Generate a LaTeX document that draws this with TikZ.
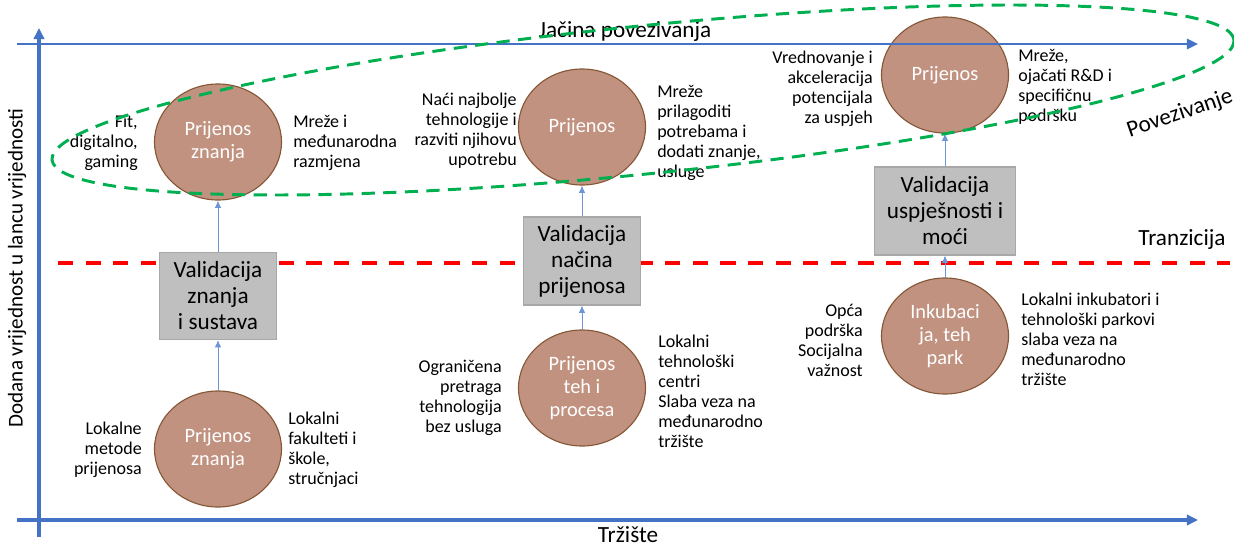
\documentclass[tikz,border=0pt]{standalone}
\usepackage{fontspec}
\setmainfont{Carlito}
\usetikzlibrary{arrows.meta}
\usetikzlibrary{shapes.geometric}

\definecolor{osplava}{RGB}{68,114,196}
\definecolor{vezaplava}{RGB}{110,150,215}
\definecolor{zelena}{RGB}{0,176,80}
\definecolor{smeda}{RGB}{193,146,128}
\definecolor{smedarub}{RGB}{133,87,54}
\definecolor{siva}{RGB}{191,191,191}
\definecolor{sivarub}{RGB}{168,168,168}

\begin{document}
\begin{tikzpicture}[x=0.25mm,y=-0.25mm,
  prijenos/.style={ellipse,draw=smedarub,fill=smeda,line width=0.8pt,
    minimum width=31.75mm,minimum height=29mm,inner sep=0pt,align=center,
    text=white,font=\fontsize{14.5}{16.3}\selectfont},
  valid/.style={rectangle,draw=sivarub,fill=siva,line width=0.8pt,
    inner sep=0pt,align=center,font=\fontsize{16.5}{18.5}\selectfont},
  opis/.style={inner sep=0pt,font=\fontsize{12.8}{14.2}\selectfont},
  naslov/.style={inner sep=0pt,font=\fontsize{16.5}{19}\selectfont},
  veza/.style={vezaplava,line width=0.6pt,-{Latex[length=1.8mm,width=1.6mm]}},
  os/.style={osplava,-{Triangle[length=2.8mm,width=2.6mm]}}]
\useasboundingbox (0,0) rectangle (1234,547);

\coordinate (tl) at (58,263);
\coordinate (td) at (1230,263);
\draw[red,line width=2.2pt,dash pattern=on 3.8mm off 3.1mm] (tl) -- (td);

\node (c1) [prijenos] at (218,142) {Prijenos\\znanja};
\node (c2) [prijenos] at (582,127) {Prijenos};
\node (c3) [prijenos] at (945,75) {Prijenos};
\node (c4) [prijenos] at (218,449) {Prijenos\\znanja};
\node (c5) [prijenos] at (582,388) {Prijenos\\teh i\\procesa};
\node (c6) [prijenos] at (945,336) {Inkubaci\\ja, teh\\park};

\node (b1) [valid,minimum width=29.25mm,minimum height=21.75mm] at (218,296) {Validacija\\znanja\\i sustava};
\node (b2) [valid,minimum width=29.25mm,minimum height=22mm] at (582,261) {Validacija\\načina\\prijenosa};
\node (b3) [valid,minimum width=35.25mm,minimum height=22mm] at (945,211) {Validacija\\uspješnosti i\\moći};

\node (c1l) [opis,anchor=east,align=right] at (138,143) {Fit,\\digitalno,\\gaming};
\node (c1d) [opis,anchor=west,align=left] at (293,143) {Mreže i\\međunarodna\\razmjena};
\node (c2l) [opis,anchor=east,align=right] at (517,131) {Naći najbolje\\tehnologije i\\razviti njihovu\\upotrebu};
\node (c2d) [opis,anchor=west,align=left] at (657,133) {Mreže\\prilagoditi\\potrebama i\\dodati znanje,\\usluge};
\node (c3l) [opis,anchor=east,align=right] at (873,89) {Vrednovanje i\\akceleracija\\potencijala\\za uspjeh};
\node (c3d) [opis,anchor=west,align=left] at (1018,87) {Mreže,\\ojačati R\&D i\\specifičnu\\podršku};
\node (c4l) [opis,anchor=east,align=right] at (142,450) {Lokalne\\metode\\prijenosa};
\node (c4d) [opis,anchor=west,align=left] at (288,450) {Lokalni\\fakulteti i\\škole,\\stručnjaci};
\node (c5l) [opis,anchor=east,align=right] at (502,398) {Ograničena\\pretraga\\tehnologija\\bez usluga};
\node (c5d) [opis,anchor=west,align=left] at (658,391) {Lokalni\\tehnološki\\centri\\Slaba veza na\\međunarodno\\tržište};
\node (c6l) [opis,anchor=east,align=right] at (863,340) {Opća\\podrška\\Socijalna\\važnost};
\node (c6d) [opis,anchor=west,align=left] at (1021,339) {Lokalni inkubatori i\\tehnološki parkovi\\slaba veza na\\međunarodno\\tržište};

\draw[veza] (c4) -- (b1);
\draw[veza] (b1) -- (c1);
\draw[veza] (c5) -- (b2);
\draw[veza] (b2) -- (c2);
\draw[veza] (c6) -- (b3);
\draw[veza] (b3) -- (c3);

\coordinate (yd) at (39,537);
\coordinate (yg) at (39,28);
\coordinate (xl) at (17,520);
\coordinate (xd) at (1198,520);
\coordinate (gl) at (17,44);
\coordinate (gd) at (1198,44);
\draw[os,line width=2.5pt] (yd) -- (yg);
\draw[os,line width=2.5pt] (xl) -- (xd);
\draw[os,line width=1.8pt] (gl) -- (gd);

\node (jacina) [naslov] at (625,32) {Jačina povezivanja};
\node (trziste) [naslov] at (628,535) {Tržište};
\node (dodana) [naslov,font=\fontsize{15}{18}\selectfont,rotate=90] at (17,268) {Dodana vrijednost u lancu vrijednosti};
\node (tranz) [naslov] at (1182,240) {Tranzicija};
\node (povez) [naslov,rotate=19] at (1180,114) {Povezivanje};

\draw[zelena,line width=2.1pt,dash pattern=on 3.3mm off 2.1mm,rotate around={5.8:(643,100)}]
  (643,100) ellipse [x radius=148.5mm,y radius=18.5mm];
\end{tikzpicture}
\end{document}
